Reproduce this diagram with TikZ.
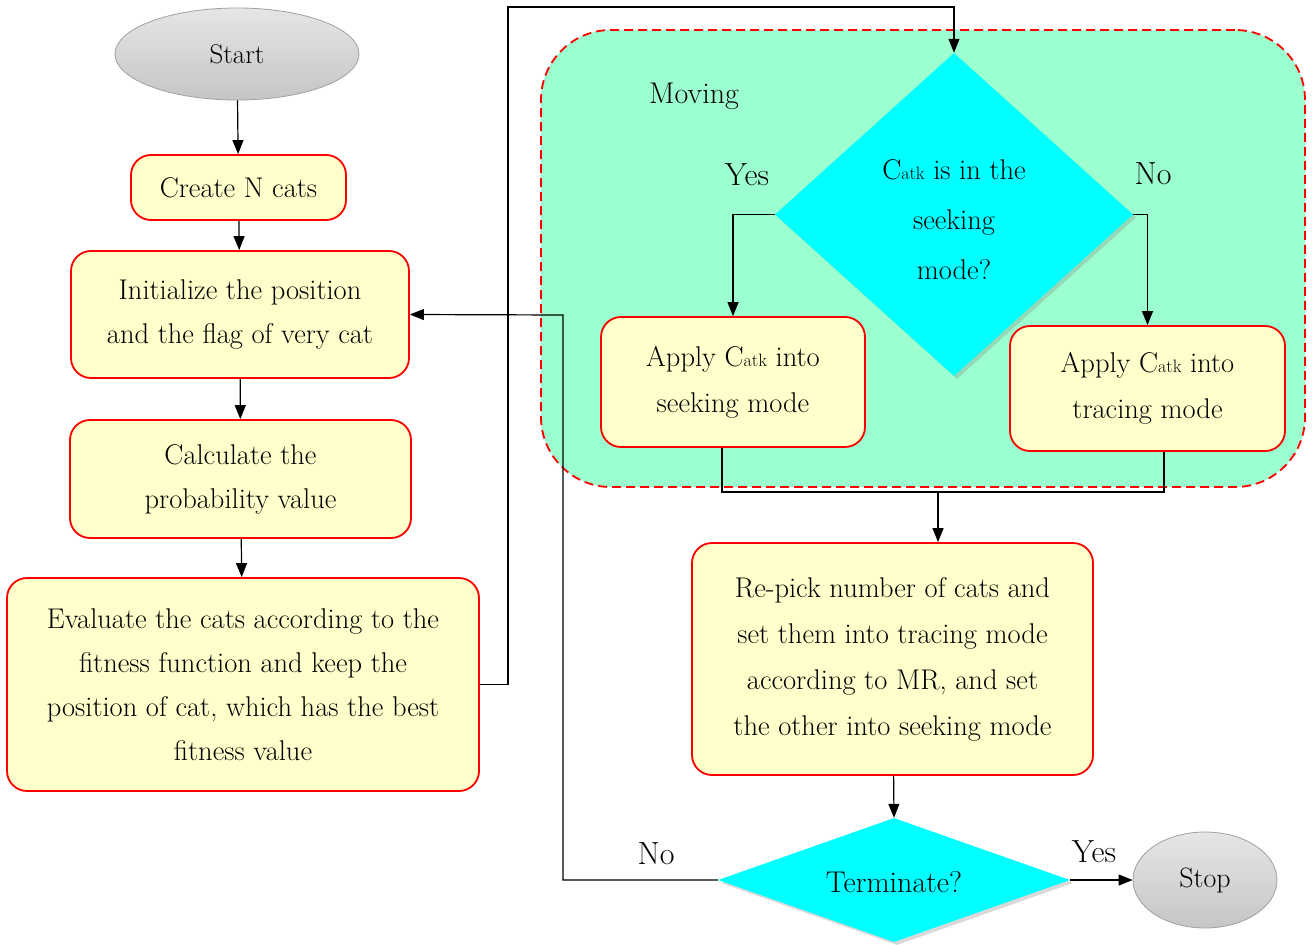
\documentclass[tikz,border=0pt]{standalone}
\usetikzlibrary{shapes.geometric,arrows.meta,shadows}
\definecolor{boxfill}{HTML}{FFFFCC}
\definecolor{movefill}{HTML}{9CFFD0}
\definecolor{dcyan}{HTML}{00FFFF}
\definecolor{grayedge}{HTML}{A0A0A0}
\newcommand{\catk}{C{\fontsize{18}{18}\selectfont atk}}
\tikzset{
  txt/.style={font=\fontsize{28.5}{44}\selectfont, align=center},
  procbox/.style={txt, draw=red, line width=1.8pt, fill=boxfill, rounded corners=20pt, inner sep=0pt},
  term/.style={txt, ellipse, draw=grayedge, line width=0.8pt, top color=gray!20, bottom color=gray!45, inner sep=0pt},
  decide/.style={txt, diamond, fill=dcyan, inner sep=0pt, drop shadow={shadow xshift=3pt, shadow yshift=-3pt, opacity=0.3}},
  arr/.style={line width=1.2pt, -{Triangle[length=14pt,width=11pt]}},
  ln/.style={line width=1.2pt},
  lbl/.style={font=\fontsize{32}{32}\selectfont}
}
\begin{document}
\begin{tikzpicture}[x=1pt,y=-1pt]
\useasboundingbox (0,0) rectangle (1313,944);
% moving region
\node[draw=red, dashed, dash pattern=on 9pt off 5pt, line width=1.8pt, fill=movefill, rounded corners=70pt,
      minimum width=764pt, minimum height=457pt, inner sep=0pt] (moving) at (923,258.5) {};
\node[font=\fontsize{30}{30}\selectfont, anchor=base] (movlbl) at (694,104) {Moving};

\node[term, minimum width=244pt, minimum height=92pt, font=\fontsize{27}{27}\selectfont] (start) at (237,54) {Start};
\node[procbox, minimum width=215pt, minimum height=65pt] (create) at (238.5,187.5) {Create N cats};
\node[procbox, minimum width=338pt, minimum height=127pt] (init) at (240,314.5) {Initialize the position\\and the flag of very cat};
\node[procbox, minimum width=341pt, minimum height=118pt] (calc) at (240.5,479) {Calculate the\\probability value};
\node[procbox, minimum width=472pt, minimum height=213pt] (eval) at (243,684.5) {Evaluate the cats according to the\\fitness function and keep the\\position of cat, which has the best\\fitness value};

\node[decide, minimum width=358pt, minimum height=323pt, shape aspect=1.1, font=\fontsize{28.5}{50}\selectfont] (d1) at (954,214.5) {};
\node[font=\fontsize{28.5}{50}\selectfont, align=center] (d1txt) at (954,220) {\catk{} is in the\\seeking\\mode?};
\node[procbox, minimum width=264pt, minimum height=130pt, font=\fontsize{28.5}{46}\selectfont] (seek) at (733,382) {Apply \catk{} into\\seeking mode};
\node[procbox, minimum width=275pt, minimum height=125pt, font=\fontsize{28.5}{46}\selectfont] (trace) at (1147.5,388.5) {Apply \catk{} into\\tracing mode};
\node[procbox, minimum width=401pt, minimum height=232pt, font=\fontsize{28.5}{46}\selectfont] (repick) at (892.5,659) {Re-pick number of cats and\\set them into tracing mode\\according to MR, and set\\the other into seeking mode};
\node[decide, minimum width=352pt, minimum height=124pt, shape aspect=2.84] (d2) at (894,880) {};
\node[font=\fontsize{30}{30}\selectfont] (d2txt) at (894,882) {Terminate?};
\node[term, minimum width=144pt, minimum height=96pt, font=\fontsize{28}{28}\selectfont] (stop) at (1205,880) {Stop};

% labels
\node[lbl] (yes1) at (747,175) {Yes};
\node[lbl] (no1) at (1153,174) {No};
\node[lbl] (no2) at (656,854) {No};
\node[lbl] (yes2) at (1094,852) {Yes};

% connectors
\draw[arr] (start) -- (create);
\draw[arr] (create) -- (init);
\draw[arr] (init) -- (calc);
\draw[arr] (calc) -- (eval);
\coordinate (up) at (508,7);
\draw[arr] (eval.east) -| (up) -| (d1.north);
\draw[arr] (d1.west) -| (seek.north);
\draw[arr] (d1.east) -| (trace.north);
\coordinate (sj) at (722,492);
\coordinate (tj) at (1164,492);
\coordinate (mj) at (938,492);
\draw[ln] (seek.south -| sj) -- (sj) -- (tj) -- (trace.south -| tj);
\draw[arr] (mj) -- (repick.north -| mj);
\draw[arr] (repick) -- (d2.north);
\coordinate (back) at (563,315);
\draw[arr] (d2.west) -| (back) -- (init.east);
\draw[arr] (d2.east) -- (stop.west);
\end{tikzpicture}
\end{document}
